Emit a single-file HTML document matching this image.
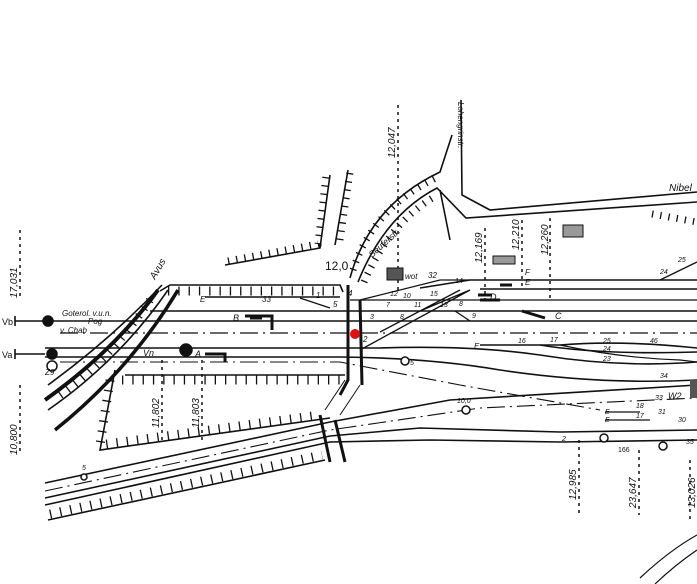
<!DOCTYPE html>
<html><head><meta charset="utf-8"><style>
html,body{margin:0;padding:0;background:#fff;}
svg{display:block;}
text{font-family:"Liberation Sans",sans-serif;font-style:italic;fill:#111;}
</style></head><body>
<svg width="697" height="584" viewBox="0 0 697 584" xmlns="http://www.w3.org/2000/svg">
<g fill="none" stroke="#111" stroke-width="1.6">
<path d="M350,278 Q370,205 440,172 L452,135"/>
<path d="M358,282 Q385,215 437,188 L466,218 L697,202"/>
<path d="M461,100 L462,195 L490,210 L697,192"/>
<path d="M225,265 L320,248 L330,175 M335,245 L348,170"/>
<path d="M440,190 L450,240"/>
<g stroke-width="7" stroke-dasharray="1.3 7">
<path d="M228,261 L318,244 L326,176"/>
<path d="M340,240 L350,172"/>
<path d="M353,270 Q373,208 436,178"/>
<path d="M364,282 Q390,222 436,196"/>
<path d="M652,214 L697,222"/>
</g>
<path d="M160,291 L170,285 L340,285 L343,292"/>
<path d="M168,291 L340,291" stroke-dasharray="1.3 9" stroke-width="9"/>
<path d="M205,297 L340,297"/>
<path d="M350,300 L697,300" stroke-width="1.3"/>
<path d="M420,288 L470,280 L697,280"/>
<path d="M480,289 L697,289"/>
<path d="M150,311 L697,311"/>
<path d="M45,321 L697,321"/>
<path d="M60,333 L697,333" stroke-dasharray="18 5 2 5" stroke-width="1.2"/>
<path d="M45,348 L380,348 Q470,345 540,355 Q620,368 697,362"/>
<path d="M45,357 L340,357 Q430,358 500,370 Q600,385 697,380"/>
<path d="M60,362 L340,362 L460,385 L600,410" stroke-dasharray="18 5 2 5" stroke-width="1.1"/>
<path d="M480,345 L560,345 Q620,340 697,348"/>
<path d="M540,345 Q600,355 697,352"/>
<path d="M125,375 L345,375 M115,370 L100,450 L330,418"/>
<path d="M122,380 L340,380" stroke-dasharray="1.3 9" stroke-width="9"/>
<path d="M110,380 L100,445 L320,415" stroke-dasharray="1.3 9" stroke-width="9"/>
<path d="M45,483 L330,422 L450,400 L697,385"/>
<path d="M45,498 L330,436 L420,428 L560,432 L697,430"/>
<path d="M45,505 L330,442 L430,440 L560,442 L697,440"/>
<path d="M45,491 L330,430 L480,408 L697,398" stroke-dasharray="18 5 2 5" stroke-width="1.1"/>
<path d="M48,520 L325,460" />
<path d="M50,514 L322,455" stroke-dasharray="1.3 9" stroke-width="9"/>
<path d="M48,385 Q110,340 162,285"/>
<path d="M48,410 Q120,360 168,290"/>
<path d="M45,400 Q115,350 158,290" stroke-width="4"/>
<path d="M55,430 Q130,370 178,290" stroke-width="3.5"/>
<path d="M60,395 Q110,360 150,300" stroke-dasharray="1.3 8" stroke-width="8"/>
<path d="M348,285 L348,380 L340,395" stroke-width="3"/>
<path d="M360,300 L362,385" stroke-width="3"/>
<path d="M320,415 L330,462 M335,420 L345,462" stroke-width="3"/>
<path d="M325,410 L345,380 M340,415 L360,385" stroke-width="1"/>
<path d="M360,350 L470,290 M380,332 L460,290 M420,311 L470,290 M360,300 L440,280 L470,280" stroke-width="1.3"/>
<path d="M300,298 L330,308 M455,311 L470,321" stroke-width="1.3"/>
<path d="M560,345 Q620,358 680,360 L697,362" stroke-width="1.2"/>
<path d="M660,280 L697,262" stroke-width="1.3"/>
<path d="M605,412 L640,412 M605,420 L650,420" stroke-width="1.3"/>
<path d="M245,316 L272,316 L272,330 M250,318 L262,318 M205,354 L225,354 L225,362" stroke-width="3"/>
<path d="M478,295 L492,295 M500,285 L512,285 M522,311 L545,318 M480,300 L500,300" stroke-width="3"/>
<path d="M15,321 L45,321 M15,354 L45,354 M15,316 L15,326 M15,349 L15,359" stroke-width="1.6"/>
</g>
<g stroke="#111" stroke-width="1.5" stroke-dasharray="3 4">
<line x1="20" y1="230" x2="20" y2="300"/><line x1="20" y1="385" x2="20" y2="455"/>
<line x1="162" y1="360" x2="162" y2="440"/><line x1="202" y1="360" x2="202" y2="440"/>
<line x1="398" y1="105" x2="398" y2="290"/><line x1="485" y1="228" x2="485" y2="300"/>
<line x1="522" y1="220" x2="522" y2="290"/><line x1="550" y1="218" x2="550" y2="300"/>
<line x1="579" y1="440" x2="579" y2="515"/><line x1="639" y1="450" x2="639" y2="515"/>
<line x1="690" y1="460" x2="690" y2="520"/>
</g>
<g stroke="#111" stroke-width="1.5">
<circle cx="48" cy="321" r="5" fill="#111"/><circle cx="52" cy="354" r="5" fill="#111"/>
<circle cx="52" cy="366" r="5" fill="#fff"/><circle cx="186" cy="350" r="6" fill="#111"/>
<circle cx="405" cy="361" r="4" fill="#fff"/><circle cx="466" cy="410" r="4" fill="#fff"/>
<circle cx="604" cy="438" r="4" fill="#fff"/><circle cx="663" cy="446" r="4" fill="#fff"/>
<circle cx="84" cy="477" r="3" fill="#fff"/>
</g>
<circle cx="355" cy="334" r="5" fill="#e01010"/>
<rect x="387" y="268" width="16" height="12" fill="#555" stroke="#111"/>
<rect x="493" y="256" width="22" height="8" fill="#999" stroke="#111"/>
<rect x="563" y="225" width="20" height="12" fill="#999" stroke="#111"/>
<rect x="690" y="380" width="7" height="18" fill="#555"/>
<g font-size="9">
<text x="2" y="325" style="font-style:normal">Vb</text>
<text x="2" y="358" style="font-style:normal">Va</text>
<text x="62" y="316" font-size="8">Goterol. v.u.n.</text>
<text x="88" y="324" font-size="8">Pog</text>
<text x="60" y="333" font-size="8">v. Chab</text>
<text x="45" y="375" font-size="8">Z9</text>
<text x="143" y="356">Vn</text><text x="195" y="357">A</text>
<text x="233" y="321">B</text><text x="200" y="302" font-size="8">E</text>
<text x="262" y="302" font-size="8">33</text>
<text x="316" y="298" font-size="8">1</text><text x="333" y="307" font-size="8">5</text>
<text x="348" y="296" font-size="8">4</text>
<text x="325" y="270" font-size="12" style="font-style:normal">12,0</text>
<text x="405" y="279" font-size="8">wot</text>
<text x="428" y="278" font-size="8">32</text><text x="455" y="283" font-size="7">14</text>
<text x="390" y="296" font-size="7">12</text><text x="403" y="298" font-size="7">10</text>
<text x="430" y="296" font-size="7">15</text><text x="386" y="307" font-size="7">7</text>
<text x="414" y="307" font-size="7">11</text><text x="440" y="307" font-size="7">13</text>
<text x="459" y="306" font-size="7">8</text><text x="370" y="319" font-size="7">3</text>
<text x="400" y="319" font-size="7">8</text><text x="472" y="318" font-size="7">9</text>
<text x="363" y="342" font-size="8">2</text>
<text x="490" y="300">D</text><text x="525" y="275" font-size="8">F</text>
<text x="525" y="285" font-size="8">E</text><text x="555" y="319">C</text>
<text x="474" y="349" font-size="8">E</text><text x="518" y="343" font-size="7">16</text>
<text x="550" y="342" font-size="7">17</text><text x="603" y="343" font-size="7">25</text>
<text x="603" y="351" font-size="7">24</text><text x="603" y="361" font-size="7">23</text>
<text x="650" y="343" font-size="7">46</text><text x="660" y="378" font-size="7">34</text>
<text x="660" y="274" font-size="7">24</text><text x="678" y="262" font-size="7">25</text>
<text x="669" y="191" font-size="10">Nibel</text>
<text x="457" y="403" font-size="7">10,0</text><text x="410" y="365" font-size="7">5</text>
<text x="636" y="408" font-size="7">18</text><text x="636" y="418" font-size="7">17</text>
<text x="655" y="400" font-size="7">33</text><text x="668" y="399" font-size="9">W2</text>
<text x="658" y="414" font-size="7">31</text><text x="678" y="422" font-size="7">30</text>
<text x="605" y="414" font-size="7">E</text><text x="605" y="422" font-size="7">E</text>
<text x="562" y="441" font-size="7">2</text><text x="618" y="452" font-size="7" style="font-style:normal">166</text>
<text x="686" y="444" font-size="7">35</text><text x="82" y="470" font-size="7">5</text>
<text transform="translate(17,298) rotate(-90)" font-size="10">17,031</text>
<text transform="translate(17,455) rotate(-90)" font-size="10">10,800</text>
<text transform="translate(159,428) rotate(-90)" font-size="10">11,802</text>
<text transform="translate(199,428) rotate(-90)" font-size="10">11,803</text>
<text transform="translate(395,158) rotate(-90)" font-size="10">12,047</text>
<text transform="translate(482,263) rotate(-90)" font-size="10">12,169</text>
<text transform="translate(519,250) rotate(-90)" font-size="10">12,210</text>
<text transform="translate(548,255) rotate(-90)" font-size="10">12,260</text>
<text transform="translate(576,500) rotate(-90)" font-size="10">12,985</text>
<text transform="translate(636,508) rotate(-90)" font-size="10">23,647</text>
<text transform="translate(695,508) rotate(-90)" font-size="10">13,026</text>
<text transform="translate(155,280) rotate(-60)" font-size="10">Avus</text>
<text transform="translate(372,258) rotate(-42)" font-size="9">Seuferstr.</text>
<text transform="translate(458,102) rotate(90)" font-size="8">Lohengrinstr.</text>
</g>
<path d="M640,578 Q670,550 697,535 M655,584 Q675,565 697,550" fill="none" stroke="#111" stroke-width="1.2"/>
</svg>
</body></html>
